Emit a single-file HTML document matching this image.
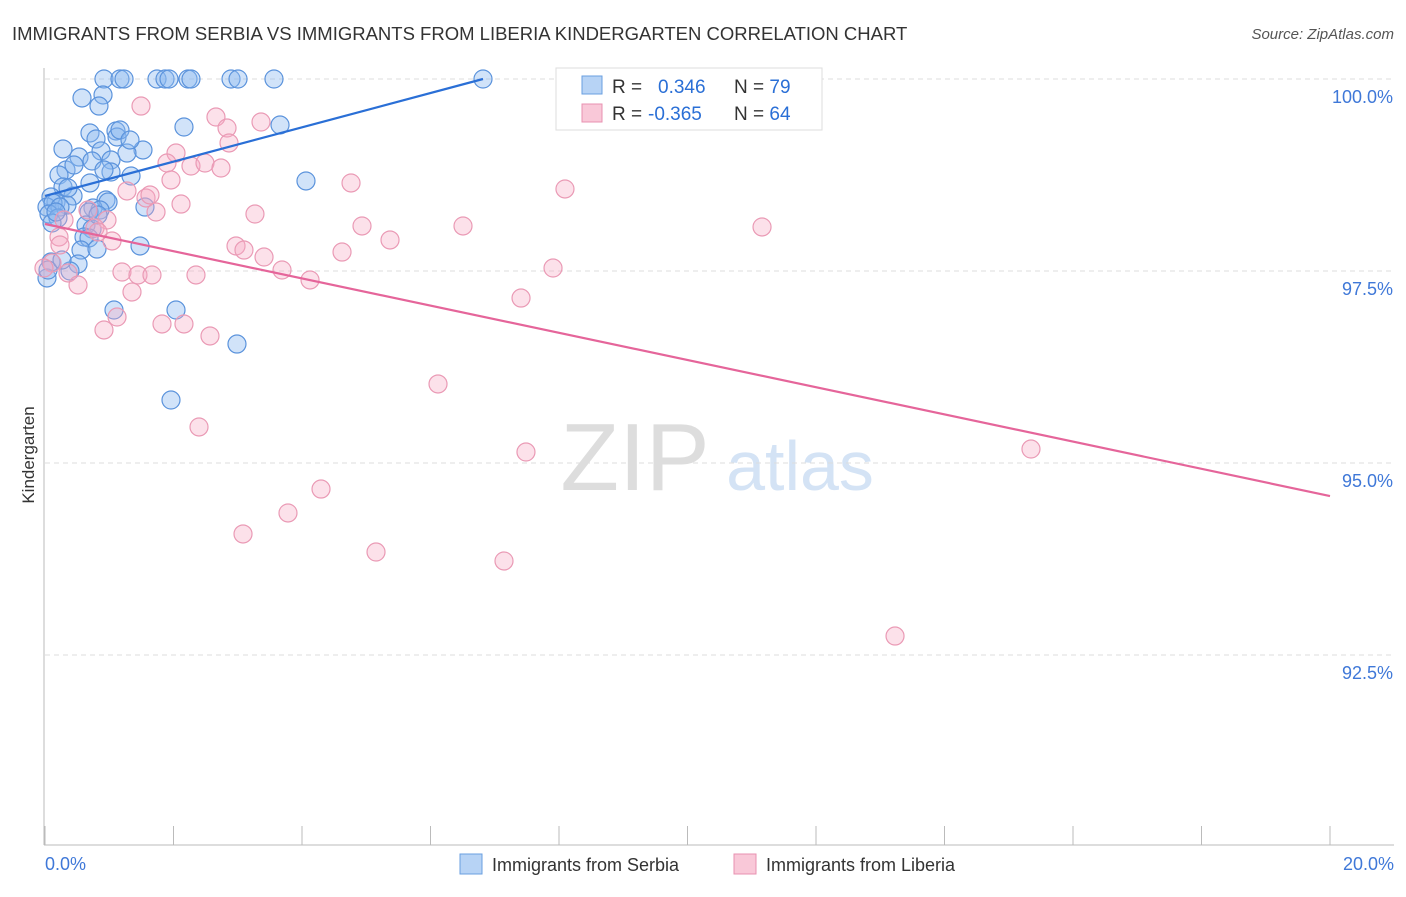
<!DOCTYPE html>
<html><head><meta charset="utf-8"><style>
body{margin:0;background:#fff;font-family:"Liberation Sans",sans-serif;}
svg text{font-family:"Liberation Sans",sans-serif;}
</style></head><body>
<svg id="chart" width="1406" height="892" xmlns="http://www.w3.org/2000/svg">
<text x="12" y="40" font-size="18.5" fill="#333">IMMIGRANTS FROM SERBIA VS IMMIGRANTS FROM LIBERIA KINDERGARTEN CORRELATION CHART</text>
<text x="1394" y="39" font-size="15" fill="#555" font-style="italic" text-anchor="end">Source: ZipAtlas.com</text>
<text x="635" y="490" font-size="96" fill="#ddd" text-anchor="middle" font-family="Liberation Serif">ZIP</text>
<text x="800" y="490" font-size="70" fill="#d4e3f5" text-anchor="middle">atlas</text>
<g id="grid"></g><g id="axes"></g><g id="pts"></g><g id="lines"></g>
<text x="34" y="455" font-size="17" fill="#333" text-anchor="middle" transform="rotate(-90 34 455)">Kindergarten</text>
<g>
<rect x="556" y="68" width="266" height="62" fill="#fff" stroke="#ddd"/>
<rect x="582" y="76" width="20" height="18" fill="#b7d3f5" stroke="#6a9fe0"/>
<rect x="582" y="104" width="20" height="18" fill="#f9c8d8" stroke="#e891b0"/>
<text x="612" y="93" font-size="19" fill="#333">R = <tspan x="658" fill="#2a6fd6">0.346</tspan><tspan x="734">N = </tspan><tspan fill="#2a6fd6">79</tspan></text>
<text x="612" y="120" font-size="19" fill="#333">R = <tspan x="648" fill="#2a6fd6">-0.365</tspan><tspan x="734">N = </tspan><tspan fill="#2a6fd6">64</tspan></text>
</g>
<g>
<rect x="460" y="854" width="22" height="20" fill="#b7d3f5" stroke="#6a9fe0"/>
<text x="492" y="871" font-size="18" fill="#333">Immigrants from Serbia</text>
<rect x="734" y="854" width="22" height="20" fill="#f9c8d8" stroke="#e891b0"/>
<text x="766" y="871" font-size="18" fill="#333">Immigrants from Liberia</text>
</g>
</svg>
<script>
const yTicks=[100,97.5,95,92.5];
const yTickLabels=["100.0%","97.5%","95.0%","92.5%"];
const xTicksLabels=["0.0%","20.0%"];
const serbiaPx=[[104,79],[120,79],[124,79],[157,79],[165,79],[169,79],[188,79],[191,79],[231,79],[238,79],[274,79],[483,79],[82,98],[103,95],[99,106],[184,127],[280,125],[90,133],[116,131],[117,137],[63,149],[96,139],[143,150],[101,151],[79,157],[127,153],[111,160],[92,161],[66,170],[111,172],[104,170],[59,175],[131,176],[90,183],[63,187],[306,181],[51,197],[73,196],[56,202],[106,200],[108,202],[47,207],[67,205],[53,203],[60,207],[93,208],[100,210],[145,207],[49,214],[89,212],[58,218],[52,223],[86,225],[92,229],[84,237],[89,238],[140,246],[81,250],[97,249],[78,264],[70,271],[51,262],[47,278],[114,310],[176,310],[237,344],[171,400],[48,270],[62,260],[56,212],[68,188],[74,165],[98,215],[120,130],[130,140]];
const liberiaPx=[[676,79],[141,106],[216,117],[227,128],[261,122],[229,143],[176,153],[167,163],[191,166],[205,163],[221,168],[171,180],[127,191],[351,183],[565,189],[146,198],[181,204],[156,212],[255,214],[107,220],[95,228],[362,226],[463,226],[762,227],[59,237],[112,241],[390,240],[236,246],[244,250],[342,252],[264,257],[52,263],[44,268],[68,273],[122,272],[138,275],[152,275],[196,275],[282,270],[310,280],[553,268],[78,285],[132,292],[521,298],[117,317],[104,330],[162,324],[184,324],[210,336],[438,384],[199,427],[526,452],[1031,449],[321,489],[288,513],[243,534],[376,552],[504,561],[895,636],[88,210],[98,232],[60,245],[64,220],[150,195]];
const toX=p=>(p-45)/1285*20, toY=p=>100-(p-79)/192*2.5;
const serbiaX=serbiaPx.map(p=>+toX(p[0]).toFixed(3)), serbiaY=serbiaPx.map(p=>+toY(p[1]).toFixed(3));
const liberiaX=liberiaPx.map(p=>+toX(p[0]).toFixed(3)), liberiaY=liberiaPx.map(p=>+toY(p[1]).toFixed(3));
const serbiaTrendX=[0,6.817], serbiaTrendY=[98.477,100];
const liberiaTrendX=[0,20], liberiaTrendY=[98.112,94.57];

const sx=v=>45+v/20*1285, sy=v=>79+(100-v)/2.5*192;
const NS="http://www.w3.org/2000/svg";
function mk(t,a,parent){const e=document.createElementNS(NS,t);for(const k in a)e.setAttribute(k,a[k]);document.getElementById(parent).appendChild(e);return e;}
yTicks.forEach((t,i)=>{
 const l=mk('line',{x1:45,x2:1394,y1:sy(t),y2:sy(t),stroke:'#ddd','stroke-dasharray':'5,4'},'grid');
 
 
 const tx=mk('text',{x:1393,y:sy(t)+24,'font-size':18,fill:'#3f78d8','text-anchor':'end'},'grid');
 tx.textContent=yTickLabels[i];
 
 
});
const ax=mk('line',{x1:44,x2:44,y1:68,y2:845,stroke:'#bbb'},'axes');


const bx=mk('line',{x1:44,x2:1394,y1:845,y2:845,stroke:'#bbb'},'axes');


for(let i=0;i<=10;i++){const t=mk('line',{x1:sx(i*2),x2:sx(i*2),y1:826,y2:845,stroke:'#bbb'},'axes');
 
 }
[[0,'start',45],[20,'end',1394]].forEach((d,i)=>{const t=mk('text',{x:d[2],y:870,'font-size':18,fill:'#3f78d8','text-anchor':d[1]},'axes');t.textContent=xTicksLabels[i];
 
 });
serbiaX.forEach((x,i)=>{const c=mk('circle',{cx:sx(x),cy:sy(serbiaY[i]),r:9,fill:'rgba(140,185,240,0.4)',stroke:'#5b93dc','stroke-width':1.2},'pts');
 
 });
liberiaX.forEach((x,i)=>{const c=mk('circle',{cx:sx(x),cy:sy(liberiaY[i]),r:9,fill:'rgba(245,170,195,0.35)',stroke:'#ea9ab5','stroke-width':1.2},'pts');
 
 });
const l1=mk('line',{x1:sx(serbiaTrendX[0]),y1:sy(serbiaTrendY[0]),x2:sx(serbiaTrendX[1]),y2:sy(serbiaTrendY[1]),stroke:'#2a6fd6','stroke-width':2.2},'lines');


const l2=mk('line',{x1:sx(liberiaTrendX[0]),y1:sy(liberiaTrendY[0]),x2:sx(liberiaTrendX[1]),y2:sy(liberiaTrendY[1]),stroke:'#e5659a','stroke-width':2.2},'lines');


</script>
</body></html>
